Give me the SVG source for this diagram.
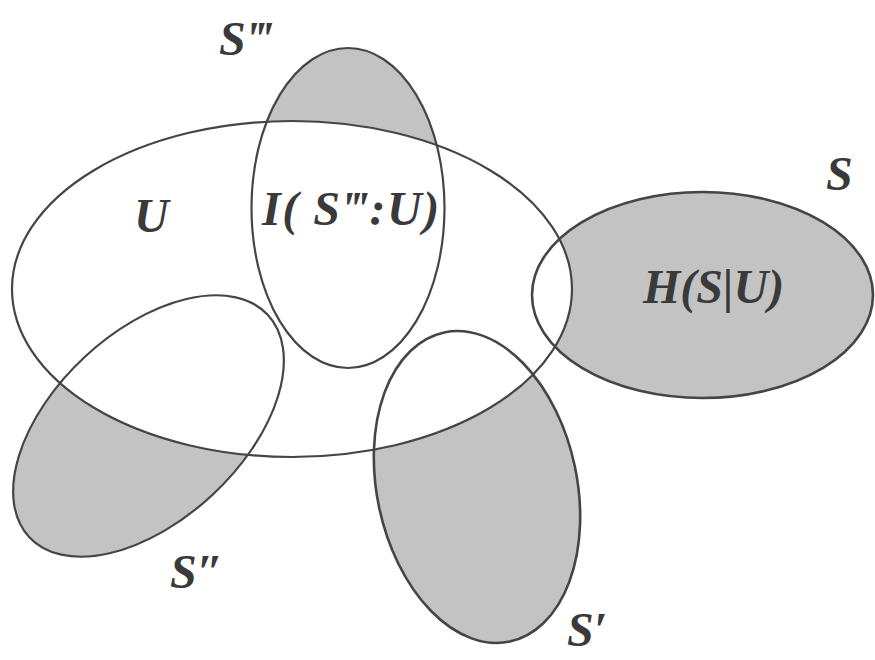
<svg xmlns="http://www.w3.org/2000/svg" width="875" height="660" viewBox="0 0 875 660">
  <style>
    .shade { fill: #c3c3c3; stroke: none; }
    .outline { fill: none; stroke: #454545; stroke-width: 2.6; }
    .thin { fill: none; stroke: #454545; stroke-width: 2.2; }
    .lbl { font-family: "Liberation Serif", "Times New Roman", serif; font-style: italic; font-weight: bold; font-size: 48px; fill: #3a3a3a; }
  </style>
  <defs>
    <mask id="outsideU" maskUnits="userSpaceOnUse" x="0" y="0" width="875" height="660">
      <rect x="0" y="0" width="875" height="660" fill="#fff"/>
      <ellipse cx="292" cy="289" rx="280" ry="168" fill="#000"/>
    </mask>
  </defs>
  <rect x="0" y="0" width="875" height="660" fill="#ffffff"/>

  <g id="node-S3">
    <g mask="url(#outsideU)">
      <ellipse class="shade" cx="348" cy="208" rx="96.5" ry="160"/>
    </g>
    <ellipse class="thin" cx="348" cy="208" rx="96.5" ry="160"/>
    <text class="lbl" x="219" y="55">S‴</text>
    <text class="lbl" x="262" y="225" letter-spacing="1.5">I( S‴:U)</text>
  </g>

  <g id="node-S">
    <g mask="url(#outsideU)">
      <ellipse class="shade" cx="702.5" cy="295" rx="170.5" ry="103"/>
    </g>
    <ellipse class="outline" cx="702.5" cy="295" rx="170.5" ry="103"/>
    <text class="lbl" x="826" y="190">S</text>
    <text class="lbl" x="643" y="303">H(S|U)</text>
  </g>

  <g id="node-S2">
    <g mask="url(#outsideU)">
      <ellipse class="shade" cx="148.5" cy="426" rx="163" ry="94" transform="rotate(-43 148.5 426)"/>
    </g>
    <ellipse class="thin" cx="148.5" cy="426" rx="163" ry="94" transform="rotate(-43 148.5 426)"/>
    <text class="lbl" x="170" y="588">S″</text>
  </g>

  <g id="node-S1">
    <g mask="url(#outsideU)">
      <ellipse class="shade" cx="477" cy="487" rx="100" ry="158" transform="rotate(-12 477 487)"/>
    </g>
    <ellipse class="outline" cx="477" cy="487" rx="100" ry="158" transform="rotate(-12 477 487)"/>
    <text class="lbl" x="567" y="646">S′</text>
  </g>

  <g id="node-U">
    <ellipse class="thin" cx="292" cy="289" rx="280" ry="168"/>
    <text class="lbl" x="134" y="232">U</text>
  </g>

  <g id="connectors"></g>
</svg>
